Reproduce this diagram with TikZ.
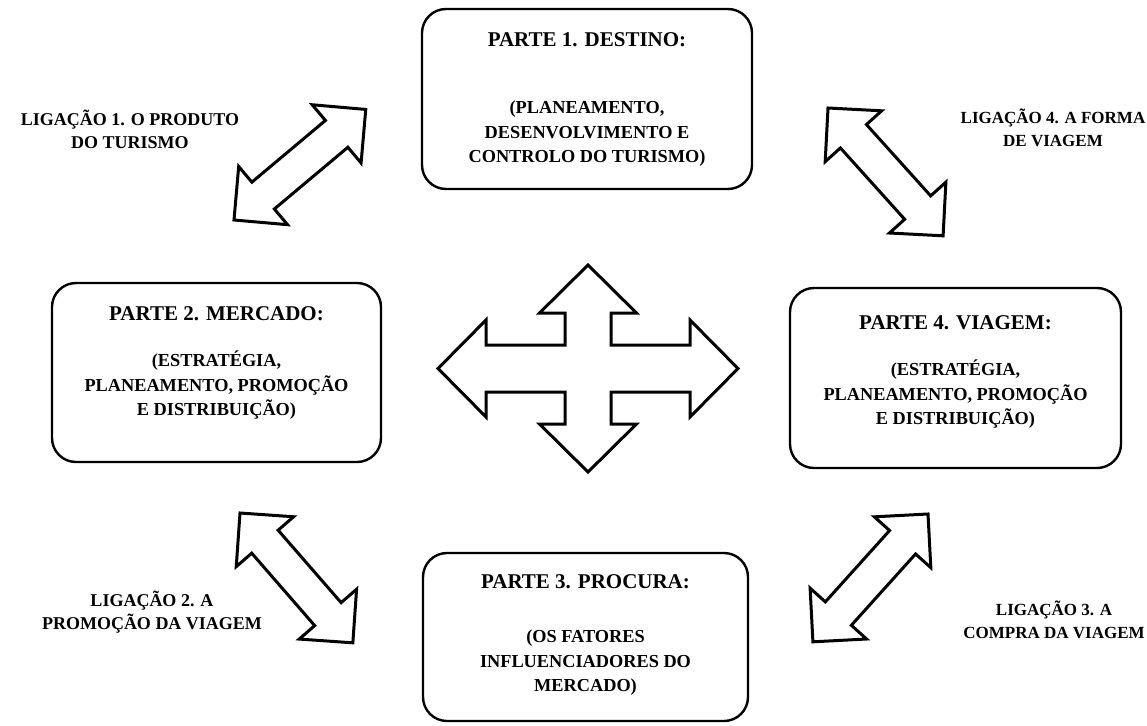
\documentclass[tikz,border=0pt]{standalone}
\usepackage{fontspec}
\setmainfont{Liberation Serif}
\usetikzlibrary{calc}
\begin{document}
\begin{tikzpicture}[x=1pt,y=-1pt,
  partbox/.style={draw, line width=2.4pt, rounded corners=24pt, inner sep=0pt},
  ptitle/.style={font=\fontsize{21}{24}\selectfont\bfseries, anchor=base, inner sep=0pt},
  pbody/.style={font=\fontsize{18.3}{24.5}\selectfont\bfseries, align=center, anchor=north, inner sep=0pt},
  linklabel/.style={font=\fontsize{18}{23}\selectfont\bfseries, align=center, inner sep=0pt},
  linklabelr/.style={linklabel, font=\fontsize{17}{23}\selectfont\bfseries},
  blockline/.style={draw, line width=3pt, line join=miter, fill=white},
  % double block arrow: length / shaft half width / head half width / head length
  pics/dblarrow/.style args={#1/#2/#3/#4}{code={
    \path[blockline] (0,0) -- (#4,#3) -- (#4,#2) -- (#1-#4,#2) -- (#1-#4,#3) -- (#1,0)
      -- (#1-#4,-#3) -- (#1-#4,-#2) -- (#4,-#2) -- (#4,-#3) -- cycle;
  }}
]
\useasboundingbox (0,0) rectangle (1147,725);

% the four parts
\node[partbox, minimum width=330, minimum height=180] (p1) at (587,99) {};
\node[partbox, minimum width=329, minimum height=179] (p2) at (216.5,372.5) {};
\node[partbox, minimum width=331, minimum height=180] (p4) at (955.5,378) {};
\node[partbox, minimum width=325, minimum height=168] (p3) at (585.5,637) {};

\node[ptitle] (t1) at ($(p1.north)+(0,39)$) {PARTE 1. DESTINO:};
\node[pbody] (b1) at ($(p1.north)+(0,93)$) {(PLANEAMENTO,\\DESENVOLVIMENTO E\\CONTROLO DO TURISMO)};

\node[ptitle] (t2) at ($(p2.north)+(0,39)$) {PARTE 2. MERCADO:};
\node[pbody] (b2) at ($(p2.north)+(0,69)$) {(ESTRATÉGIA,\\PLANEAMENTO, PROMOÇÃO\\E DISTRIBUIÇÃO)};

\node[ptitle] (t4) at ($(p4.north)+(0,43)$) {PARTE 4. VIAGEM:};
\node[pbody] (b4) at ($(p4.north)+(0,73)$) {(ESTRATÉGIA,\\PLANEAMENTO, PROMOÇÃO\\E DISTRIBUIÇÃO)};

\node[ptitle] (t3) at ($(p3.north)+(0,37)$) {PARTE 3. PROCURA:};
\node[pbody] (b3) at ($(p3.north)+(0,78)$) {(OS FATORES\\INFLUENCIADORES DO\\MERCADO)};

% links between the parts
\coordinate (a1) at (234,220);
\coordinate (a4) at (828,108);
\coordinate (a2) at (240,513);
\coordinate (a3) at (928,514);
\pic[rotate=40] at (a1) {dblarrow=172/17.5/38/38};
\pic[rotate=-48] at (a4) {dblarrow=172/17.5/38/38};
\pic[rotate=-49] at (a2) {dblarrow=172/17.5/38/38};
\pic[rotate=228] at (a3) {dblarrow=172/17.5/38/38};

\node[linklabel] (l1) at (130,129) {LIGAÇÃO 1. O PRODUTO\\DO TURISMO};
\node[linklabelr] (l4) at (1053,128) {LIGAÇÃO 4. A FORMA\\DE VIAGEM};
\node[linklabel] (l2) at (152,612) {LIGAÇÃO 2. A\\PROMOÇÃO DA VIAGEM};
\node[linklabelr] (l3) at (1054,620) {LIGAÇÃO 3. A\\COMPRA DA VIAGEM};

% central four-way arrow
\coordinate (c) at (588,368.5);
\path[blockline, shift={(c)}]
  (0,-103.5) -- (48.5,-55.5) -- (23,-55.5) -- (23,-23.5) -- (102,-23.5) -- (102,-48.5)
  -- (150,0) -- (102,48.5) -- (102,23.5) -- (23,23.5) -- (23,55.5) -- (48.5,55.5)
  -- (0,103.5) -- (-48.5,55.5) -- (-23,55.5) -- (-23,23.5) -- (-102,23.5) -- (-102,48.5)
  -- (-150,0) -- (-102,-48.5) -- (-102,-23.5) -- (-23,-23.5) -- (-23,-55.5) -- (-48.5,-55.5)
  -- cycle;
\end{tikzpicture}
\end{document}
